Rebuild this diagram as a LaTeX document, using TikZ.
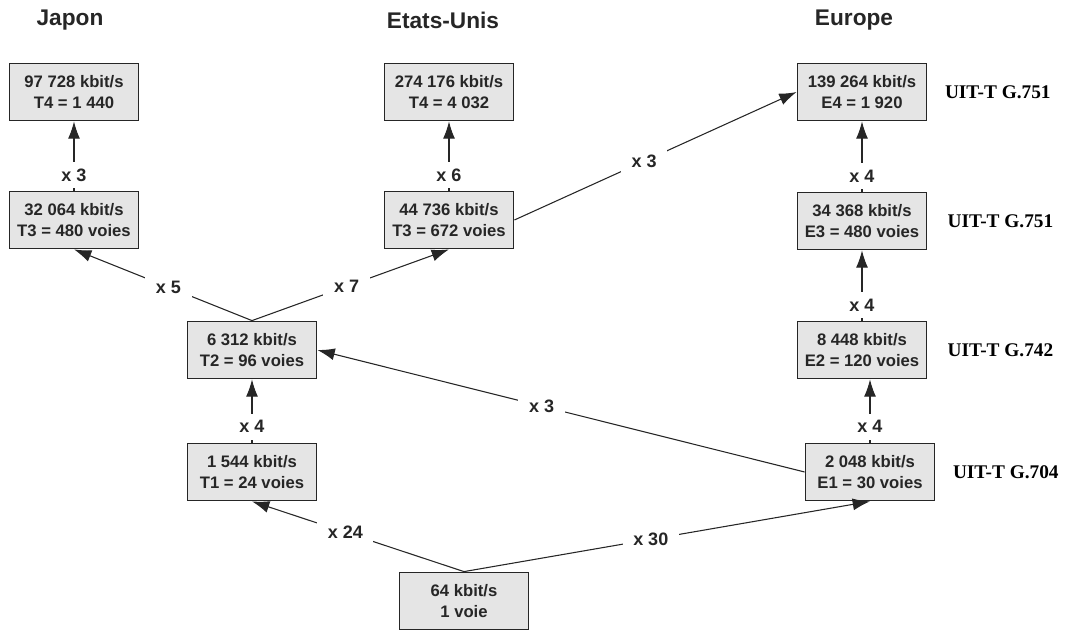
\documentclass[tikz,border=0pt]{standalone}
\usepackage{fontspec}
\setmainfont{Liberation Sans}
\newfontfamily\normfont{Liberation Serif}
\usetikzlibrary{positioning, arrows.meta}

\begin{document}
\begin{tikzpicture}[
    x=0.75pt, y=-0.75pt,
    rate/.style={rectangle, draw=black!85, line width=1.1pt, fill=black!10,
                 minimum width=97pt, minimum height=43pt, inner sep=1pt,
                 align=center, text=black!85,
                 font=\fontsize{12.5}{15.5}\selectfont\bfseries},
    mult/.style={fill=white, inner xsep=8pt, inner ysep=5pt, text=black!85,
                 font=\fontsize{13.5}{16}\selectfont\bfseries},
    region/.style={text=black!85, font=\fontsize{17}{20}\selectfont\bfseries},
    norm/.style={inner sep=0pt, font=\normfont\fontsize{14.5}{17}\selectfont\bfseries},
    arr/.style={-{Latex[length=13pt, width=9pt]}, line width=0.8pt, draw=black!85}
]
\useasboundingbox (0,0) rectangle (1067,630);

% titles
\node[region] (japon) at (70,20) {Japon};
\node[region] (etats) at (443,20) {Etats-Unis};
\node[region] (europe) at (854,20) {Europe};

% Japon
\node[rate] (japT4) at (74,92) {97 728 kbit/s\\T4 = 1 440};
\node[rate] (japT3) at (74,220) {32 064 kbit/s\\T3 = 480 voies};
% Etats-Unis
\node[rate] (usaT4) at (449,92) {274 176 kbit/s\\T4 = 4 032};
\node[rate] (usaT3) at (449,220) {44 736 kbit/s\\T3 = 672 voies};
\node[rate] (amT2) at (252,350) {6 312 kbit/s\\T2 = 96 voies};
\node[rate] (amT1) at (252,472) {1 544 kbit/s\\T1 = 24 voies};
% Europe
\node[rate] (eurE4) at (862,92) {139 264 kbit/s\\E4 = 1 920};
\node[rate] (eurE3) at (862,221) {34 368 kbit/s\\E3 = 480 voies};
\node[rate] (eurE2) at (862,350) {8 448 kbit/s\\E2 = 120 voies};
\node[rate] (eurE1) at (870,472) {2 048 kbit/s\\E1 = 30 voies};
% voie de base
\node[rate] (voie) at (464,601) {64 kbit/s\\1 voie};

% normes
\node[norm, right=13pt of eurE4] (g751a) {UIT-T G.751};
\node[norm, right=15pt of eurE3] (g751b) {UIT-T G.751};
\node[norm, right=15pt of eurE2] (g742) {UIT-T G.742};
\node[norm, right=13pt of eurE1] (g704) {UIT-T G.704};

% multiplexage
\draw[arr] (japT3) -- node[mult, pos=0.22] {x 3} (japT4);
\draw[arr] (usaT3) -- node[mult, pos=0.22] {x 6} (usaT4);
\draw[arr] (eurE3) -- node[mult, pos=0.22] {x 4} (eurE4);
\draw[arr] (eurE2) -- node[mult, pos=0.22] {x 4} (eurE3);
\draw[arr] (eurE1.north) -- node[mult, pos=0.25] {x 4} (eurE1.north |- eurE2.south);
\draw[arr] (amT1) -- node[mult, pos=0.25] {x 4} (amT2);
\draw[arr] (amT2.north) -- node[mult, pos=0.47] {x 5} (japT3.south);
\draw[arr] (amT2.north) -- node[mult, pos=0.48] {x 7} (usaT3.south);
\draw[arr] (usaT3.east) -- node[mult, pos=0.46] {x 3} (eurE4.west);
\draw[arr] (eurE1.west) -- node[mult, pos=0.54] {x 3} (amT2.east);
\draw[arr] (voie.north) -- node[mult, pos=0.56] {x 24} (amT1.south);
\draw[arr] (voie.north) -- node[mult, pos=0.46] {x 30} (eurE1.south);
\end{tikzpicture}
\end{document}
